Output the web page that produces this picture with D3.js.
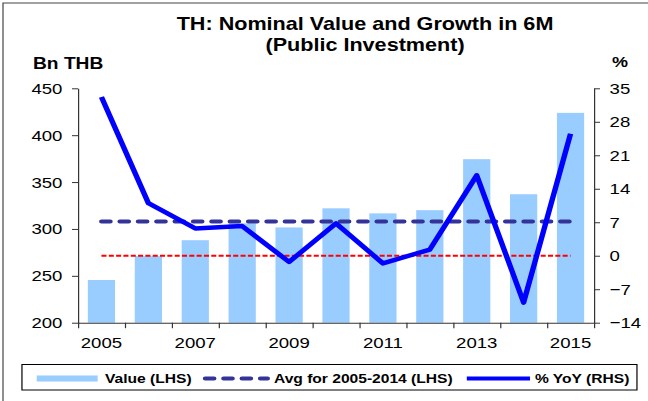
<!DOCTYPE html>
<html>
<head>
<meta charset="utf-8">
<script src="https://cdn.jsdelivr.net/npm/d3@7"></script>
<style>
body { margin: 0; background: #fff; }
svg { display: block; font-family: "Liberation Sans", Arial, sans-serif; }
</style>
</head>
<body>
<svg id="chart"></svg>
<script>
// values
const years = [2005, 2006, 2007, 2008, 2009, 2010, 2011, 2012, 2013, 2014, 2015];
const values = [245.5, 271, 288, 306, 301.6, 322, 316.6, 320, 374.4, 337, 423.8];
const yoy = [33.2, 11.0, 5.7, 6.2, -1.3, 6.75, -1.6, 1.3, 16.8, -9.8, 25.5];
const avgValue = 308;
const leftTicks = [200, 250, 300, 350, 400, 450];
const rightTicks = [-14, -7, 0, 7, 14, 21, 28, 35];
const labelYears = [2005, 2007, 2009, 2011, 2013, 2015];

// the original chart is stretched sideways, so draw in a narrower box and stretch it
const W = 540, H = 401;
const m = {left: 65, right: 45, top: 88.3, bottom: 78.3};

const svg = d3.select("#chart")
  .attr("width", 648)
  .attr("height", H)
  .attr("viewBox", `0 0 ${W} ${H}`)
  .attr("preserveAspectRatio", "none");

// outer frame (only top and left edges are visible)
svg.append("path")
  .attr("d", `M2.5,${H}V3H${W}`)
  .attr("fill", "none")
  .attr("stroke", "#444")
  .attr("stroke-width", 1);

// scales
const x = d3.scaleBand()
  .domain(years)
  .range([m.left, W - m.right])
  .paddingInner(0.42)
  .paddingOuter(0.21);

const xEdge = d3.scaleLinear()
  .domain([0, years.length])
  .range([m.left, W - m.right]);

const yL = d3.scaleLinear()
  .domain([200, 450])
  .range([H - m.bottom, m.top]);

const yR = d3.scaleLinear()
  .domain([-14, 35])
  .range([H - m.bottom, m.top]);

const cx = d => x(d) + x.bandwidth() / 2;

// bars
svg.append("g")
  .selectAll("rect")
  .data(years)
  .enter()
  .append("rect")
  .attr("x", d => x(d))
  .attr("width", x.bandwidth())
  .attr("y", (d, i) => yL(values[i]))
  .attr("height", (d, i) => yL(200) - yL(values[i]))
  .attr("fill", "#99CCFF");

// zero line of the right axis
svg.append("line")
  .attr("x1", cx(years[0]))
  .attr("x2", cx(years[years.length - 1]))
  .attr("y1", yR(0))
  .attr("y2", yR(0))
  .attr("stroke", "#FF0000")
  .attr("stroke-width", 2)
  .attr("stroke-dasharray", "4.2 1.9");

// average line
const avgDash = "7.4 7.9";
svg.append("line")
  .attr("x1", cx(years[0]))
  .attr("x2", cx(years[years.length - 1]))
  .attr("y1", yL(avgValue))
  .attr("y2", yL(avgValue))
  .attr("stroke", "#333399")
  .attr("stroke-width", 4)
  .attr("stroke-linecap", "round")
  .attr("stroke-dasharray", avgDash);

// % YoY line
const line = d3.line()
  .x((d, i) => cx(years[i]))
  .y(d => yR(d));

svg.append("path")
  .datum(yoy)
  .attr("d", line)
  .attr("fill", "none")
  .attr("stroke", "#0000FF")
  .attr("stroke-width", 4.5)
  .attr("stroke-linejoin", "round");

// axes
function styleAxis(g) {
  g.selectAll(".domain").attr("stroke", "#333");
  g.selectAll(".tick line").attr("stroke", "#333");
  g.selectAll("text").attr("fill", "#000").style("font-size", "15.5px").attr("font-family", null);
}

svg.append("g")
  .attr("transform", `translate(${m.left},0)`)
  .call(d3.axisLeft(yL).tickValues(leftTicks).tickSize(5).tickSizeOuter(0).tickPadding(8))
  .call(styleAxis);

svg.append("g")
  .attr("transform", `translate(${W - m.right},0)`)
  .call(d3.axisRight(yR).tickValues(rightTicks).tickSize(5).tickSizeOuter(0).tickPadding(8))
  .call(styleAxis);

svg.append("g")
  .attr("transform", `translate(0,${H - m.bottom})`)
  .call(d3.axisBottom(xEdge).tickValues(d3.range(years.length + 1)).tickFormat("").tickSize(5.5).tickSizeOuter(0))
  .call(styleAxis);

svg.append("g")
  .attr("transform", `translate(0,${H - m.bottom})`)
  .call(d3.axisBottom(x).tickValues(labelYears).tickSize(0).tickPadding(14))
  .call(styleAxis)
  .call(g => g.select(".domain").remove());

// titles
const title = svg.append("text")
  .attr("text-anchor", "middle")
  .style("font-size", "18px")
  .style("font-weight", "bold");
title.append("tspan").attr("x", 304.2).attr("y", 30).text("TH: Nominal Value and Growth in 6M");
title.append("tspan").attr("x", 304.2).attr("y", 51.5).text("(Public Investment)");

svg.append("text")
  .attr("x", 27.5)
  .attr("y", 69)
  .style("font-size", "16px")
  .style("font-weight", "bold")
  .text("Bn THB");

svg.append("text")
  .attr("x", 510)
  .attr("y", 67)
  .style("font-size", "15px")
  .style("font-weight", "bold")
  .text("%");

// legend
const legendY = 378.5;
const legend = svg.append("g");
legend.append("rect")
  .attr("x", 18.3)
  .attr("y", 364.5)
  .attr("width", 512.5)
  .attr("height", 25.5)
  .attr("fill", "#fff")
  .attr("stroke", "#000")
  .attr("stroke-width", 1);

legend.append("rect")
  .attr("x", 30.6)
  .attr("y", legendY - 3)
  .attr("width", 50.8)
  .attr("height", 6)
  .attr("fill", "#99CCFF");

legend.append("line")
  .attr("x1", 171)
  .attr("x2", 223)
  .attr("y1", legendY)
  .attr("y2", legendY)
  .attr("stroke", "#333399")
  .attr("stroke-width", 4)
  .attr("stroke-linecap", "round")
  .attr("stroke-dasharray", avgDash);

legend.append("line")
  .attr("x1", 389)
  .attr("x2", 441.7)
  .attr("y1", legendY)
  .attr("y2", legendY)
  .attr("stroke", "#0000FF")
  .attr("stroke-width", 4);

const legendText = [
  {label: "Value (LHS)", x: 87.5},
  {label: "Avg for 2005-2014 (LHS)", x: 228.3},
  {label: "% YoY (RHS)", x: 445.8}
];

legend.selectAll("text.lbl")
  .data(legendText)
  .enter()
  .append("text")
  .attr("class", "lbl")
  .attr("x", d => d.x)
  .attr("y", legendY + 4.7)
  .style("font-size", "13px")
  .style("font-weight", "bold")
  .text(d => d.label);
</script>
</body>
</html>
